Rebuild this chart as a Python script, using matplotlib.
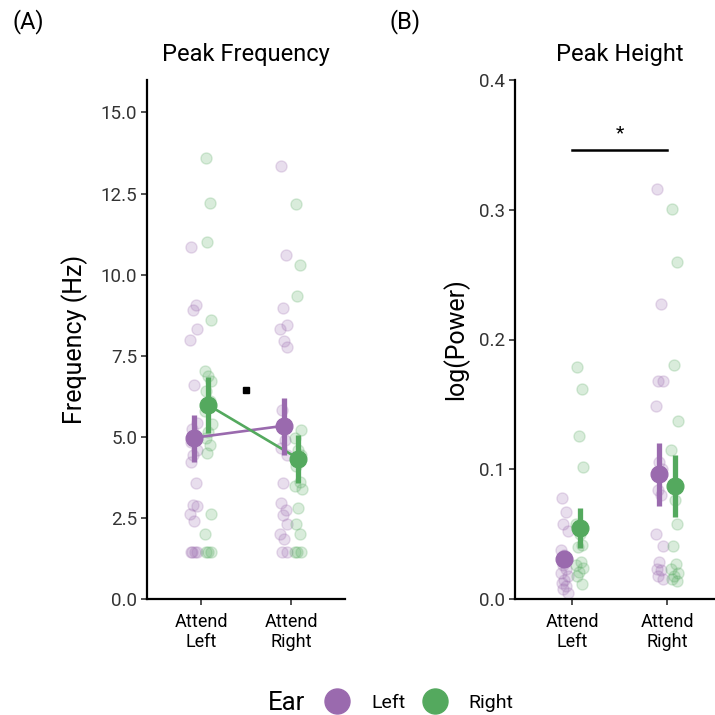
import numpy as np
import matplotlib
matplotlib.use('Agg')
import matplotlib.pyplot as plt
from matplotlib.lines import Line2D

plt.rcParams['font.family'] = ['Roboto', 'DejaVu Sans']

# conditions
conds = ['Attend\nLeft', 'Attend\nRight']
ears = ['Left', 'Right']
col = {'Left': '#9A6AAE', 'Right': '#54A95E'}

# peak frequency (Hz), per subject
freq_AL_earL = [10.86, 9.06, 8.92, 8.31, 7.97, 6.61, 5.42, 5.25, 5.05, 4.85, 4.6, 4.45, 4.22,
                3.59, 2.9, 2.88, 2.63, 2.42, 1.46, 1.46, 1.46, 1.46]
freq_AL_earR = [13.58, 12.22, 11.02, 8.6, 7.04, 6.88, 6.73, 6.4, 6.1, 5.8, 5.4, 5.15, 4.95,
                4.76, 4.49, 2.63, 2.0, 1.46, 1.46, 1.46]
freq_AR_earL = [13.35, 10.59, 8.97, 8.45, 8.31, 7.94, 7.78, 5.82, 4.9, 4.65, 4.44, 3.59, 2.95,
                2.75, 2.58, 2.3, 2.0, 1.84, 1.46, 1.46]
freq_AR_earR = [12.17, 10.31, 9.34, 5.2, 4.95, 4.6, 4.45, 4.1, 3.6, 3.48, 3.4, 2.79, 2.31,
                2.0, 1.46, 1.46, 1.46]

# peak height log(power), per subject
ht_AL_earL = [0.0777, 0.067, 0.058, 0.0525, 0.038, 0.034, 0.030, 0.026, 0.023, 0.020, 0.018,
              0.015, 0.0127, 0.010, 0.0074, 0.005]
ht_AL_earR = [0.1785, 0.162, 0.126, 0.1016, 0.058, 0.050, 0.042, 0.040, 0.0287, 0.026, 0.024,
              0.021, 0.018, 0.0114]
ht_AR_earL = [0.3157, 0.2276, 0.1684, 0.1684, 0.1485, 0.1056, 0.100, 0.084, 0.080, 0.050,
              0.0406, 0.0286, 0.0233, 0.022, 0.018, 0.0154]
ht_AR_earR = [0.3005, 0.260, 0.180, 0.137, 0.115, 0.076, 0.058, 0.0406, 0.027, 0.023, 0.020,
              0.018, 0.0154, 0.014]

# means and CI  [attend left, attend right]
freq_mean = {'Left': [4.97, 5.34], 'Right': [5.98, 4.33]}
freq_lo = {'Left': [4.22, 4.44], 'Right': [5.13, 3.59]}
freq_hi = {'Left': [5.66, 6.19], 'Right': [6.83, 5.07]}
ht_mean = {'Left': [0.031, 0.096], 'Right': [0.055, 0.087]}
ht_lo = {'Left': [0.025, 0.072], 'Right': [0.039, 0.063]}
ht_hi = {'Left': [0.037, 0.120], 'Right': [0.070, 0.111]}

freq_pts = {'Left': [freq_AL_earL, freq_AR_earL], 'Right': [freq_AL_earR, freq_AR_earR]}
ht_pts = {'Left': [ht_AL_earL, ht_AR_earL], 'Right': [ht_AL_earR, ht_AR_earR]}

jit = [-0.03, 0.02, -0.01, 0.035, -0.04, 0.0, 0.03, -0.02, 0.015, -0.035, 0.04, -0.005]
dodge = {'Left': -0.08, 'Right': 0.08}

fig = plt.figure(figsize=(7.15, 7.15), dpi=100)
axA = fig.add_axes([147/715, 1-599/715, 198/715, 519/715])
axB = fig.add_axes([515/715, 1-599/715, 209/715, 519/715])


def panel(ax, pts, mean, lo, hi, connect):
    x = np.arange(1, 3)
    for e in ears:
        for i in range(2):
            v = pts[e][i]
            xs = x[i] + dodge[e] + np.resize(jit, len(v))
            ax.scatter(xs, v, s=64, color=col[e], alpha=0.22, edgecolor=col[e],
                       linewidth=1, zorder=2)
        xm = x + dodge[e]
        if connect:
            ax.plot(xm, mean[e], color=col[e], lw=1.9, zorder=3)
        ax.vlines(xm, lo[e], hi[e], color=col[e], lw=3.8, zorder=4)
        ax.plot(xm, mean[e], 'o', color=col[e], ms=12, zorder=5)
    ax.set_xlim(0.4, 2.6)
    ax.set_xticks(x)
    ax.set_xticklabels(conds, fontsize=13, linespacing=1.15)
    for s in ['top', 'right']:
        ax.spines[s].set_visible(False)
    for s in ['left', 'bottom']:
        ax.spines[s].set_linewidth(1.6)
    ax.tick_params(width=1.2, length=4, labelsize=13.5, pad=3, colors='#333333',
                   labelcolor='#333333')
    ax.tick_params(axis='x', labelcolor='black', labelsize=13, pad=6)


panel(axA, freq_pts, freq_mean, freq_lo, freq_hi, True)
axA.set_ylim(0, 16)
axA.set_yticks([0, 2.5, 5, 7.5, 10, 12.5, 15])
axA.set_yticklabels(['0.0', '2.5', '5.0', '7.5', '10.0', '12.5', '15.0'])
axA.set_ylabel('Frequency (Hz)', fontsize=18, labelpad=9)
axA.set_title('Peak Frequency', fontsize=17, pad=14)
axA.plot([1.5], [6.45], 's', color='black', ms=4.5)

panel(axB, ht_pts, ht_mean, ht_lo, ht_hi, False)
axB.set_ylim(0, 0.4)
axB.set_yticks([0, 0.1, 0.2, 0.3, 0.4])
axB.set_yticklabels(['0.0', '0.1', '0.2', '0.3', '0.4'])
axB.set_ylabel('log(Power)', fontsize=18, labelpad=7)
axB.set_title('Peak Height', fontsize=17, pad=14)
axB.plot([1, 2], [0.346, 0.346], color='black', lw=1.8)
axB.text(1.5, 0.352, '*', ha='center', va='bottom', fontsize=14)

fig.text(12/715, 1-22/715, '(A)', fontsize=17, va='center')
fig.text(390/715, 1-22/715, '(B)', fontsize=17, va='center')

# legend
fig.text(268/715, 1-703/715, 'Ear', fontsize=18.5, va='center')
handles = [Line2D([], [], marker='o', ls='', ms=18, color=col[e]) for e in ears]
fig.legend(handles, ears, loc='center left', bbox_to_anchor=(312/715, 1-703/715),
           ncol=2, frameon=False, fontsize=14, handletextpad=0.95, columnspacing=0.7,
           borderpad=0, handlelength=1.6)

fig.savefig('out.png', dpi=100)
